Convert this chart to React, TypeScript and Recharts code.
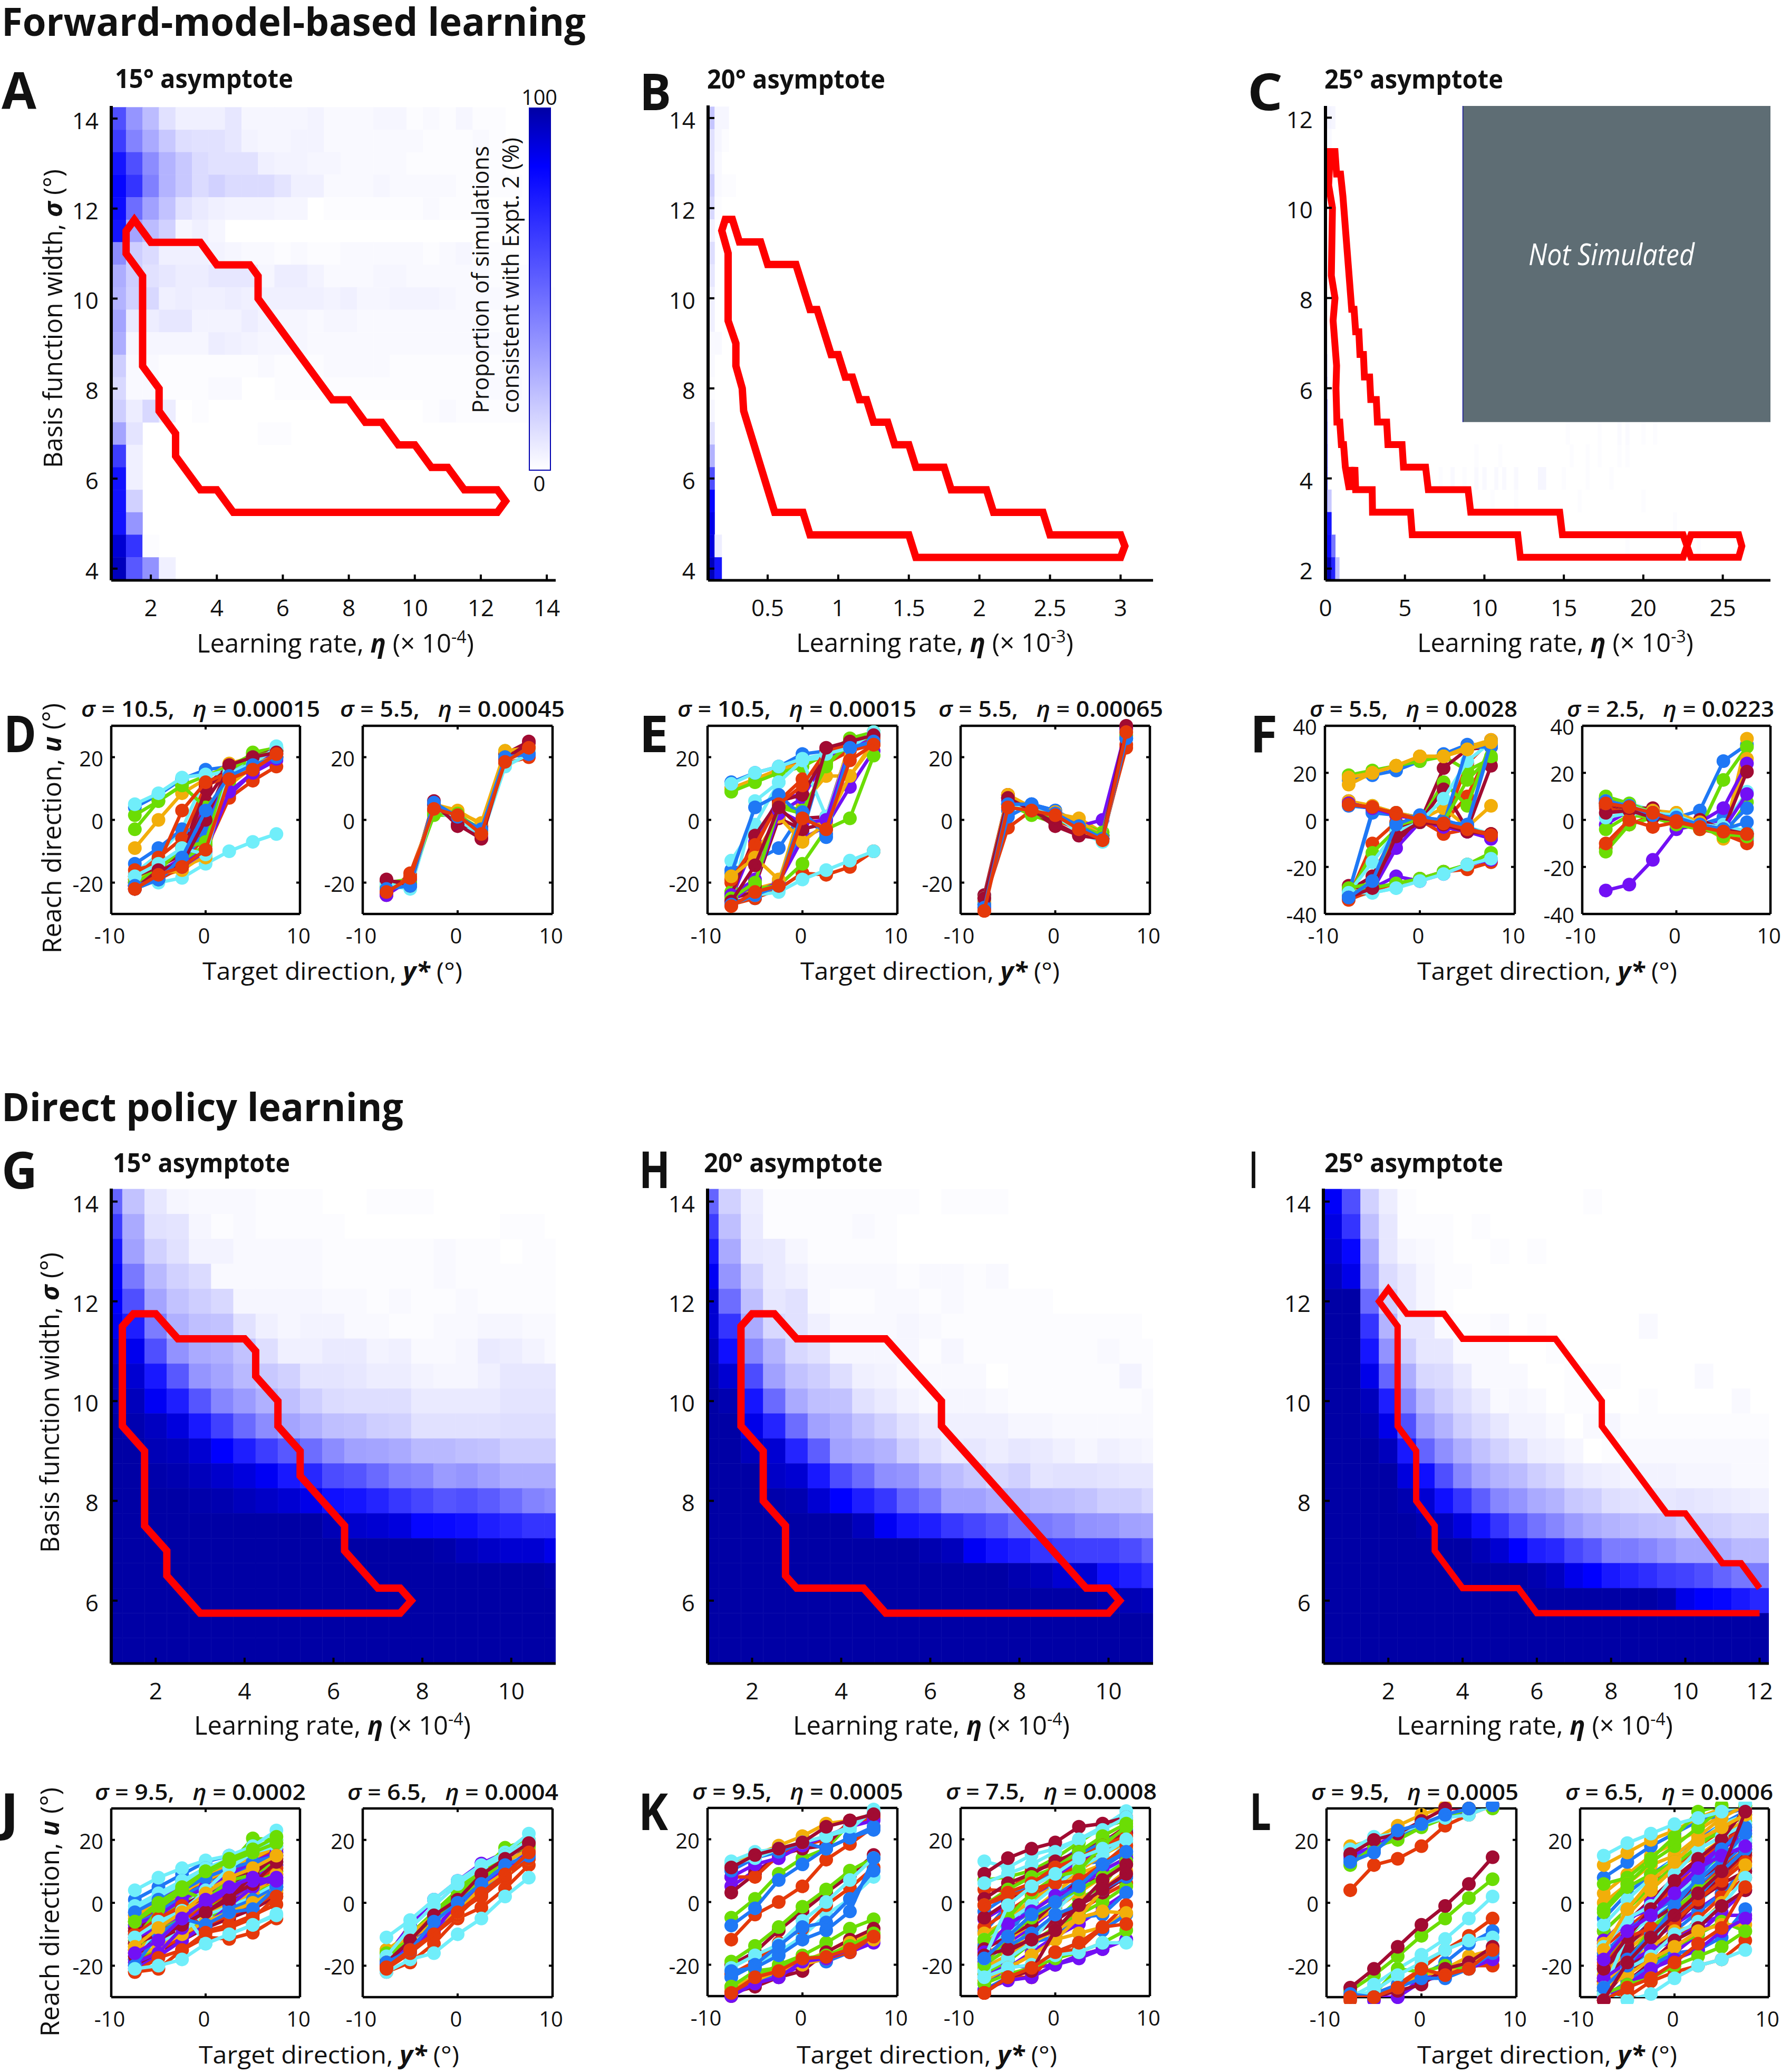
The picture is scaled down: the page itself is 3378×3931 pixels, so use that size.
import { ComposedChart, Line, ReferenceArea, Scatter, XAxis, YAxis } from "recharts";

// heat map grids, value = % of simulations, rows run top to bottom, short rows are zero to the right
const etaA = [1, 1.5, 2, 2.5, 3, 3.5, 4, 4.5, 5, 5.5, 6, 6.5, 7, 7.5, 8, 8.5, 9, 9.5, 10, 10.5, 11, 11.5, 12, 12.5, 13, 13.5, 14];
const sigmaA = [14, 13.5, 13, 12.5, 12, 11.5, 11, 10.5, 10, 9.5, 9, 8.5, 8, 7.5, 7, 6.5, 6, 5.5, 5, 4.5, 4];
const heatA = [
  [58, 35, 22, 10, 5, 5, 5, 8, 3, 3, 3, 3, 4, 2, 2, 2, 3, 3, 1, 2, 1, 3, 1, 1, 0, 0, 0],
  [64, 41, 28, 18, 11, 10, 10, 8, 4, 3, 3, 4, 4, 2, 2, 2, 2, 2, 2, 1, 1, 1, 2, 1, 0, 0, 0],
  [77, 58, 38, 25, 18, 12, 10, 10, 10, 5, 4, 4, 3, 3, 2, 2, 2, 2, 1, 1, 1, 1, 1, 1, 0, 0, 0],
  [82, 67, 42, 25, 18, 12, 15, 12, 12, 12, 9, 5, 5, 2, 2, 2, 3, 2, 2, 2, 2, 1, 1, 1, 1, 0, 0],
  [80, 48, 31, 20, 10, 7, 5, 4, 4, 4, 3, 3, 0, 1, 1, 1, 1, 1, 1, 2, 1, 1, 0, 0, 0, 0, 0],
  [77, 30, 22, 15, 3, 5, 3, 0, 0, 0, 0, 0, 0, 0, 0, 0, 0, 0, 0, 0, 0, 0, 0, 0, 0, 0, 0],
  [38, 16, 12, 5, 5, 5, 4, 3, 2, 2, 1, 2, 1, 1, 2, 2, 2, 2, 2, 1, 2, 3, 1, 1, 0, 0, 0],
  [27, 16, 10, 8, 6, 6, 8, 8, 8, 3, 6, 6, 4, 2, 2, 2, 3, 3, 2, 2, 2, 2, 2, 1, 1, 1, 0],
  [25, 15, 13, 5, 6, 5, 5, 6, 5, 5, 5, 5, 5, 4, 5, 3, 3, 4, 4, 4, 3, 2, 2, 2, 1, 1, 1],
  [30, 7, 6, 8, 8, 4, 4, 4, 6, 4, 3, 3, 2, 3, 3, 2, 2, 2, 2, 2, 2, 2, 2, 1, 1, 1, 1],
  [27, 3, 3, 3, 3, 3, 6, 5, 4, 3, 3, 3, 2, 2, 2, 2, 2, 2, 2, 2, 2, 2, 3, 2, 1, 1, 1],
  [16, 2, 2, 1, 1, 1, 1, 1, 1, 2, 1, 1, 1, 2, 2, 2, 2, 1, 1, 1, 1, 1, 1, 1, 1, 1, 1],
  [13, 2, 2, 1, 1, 1, 2, 2, 0, 0, 1, 1, 1, 1, 1, 1, 1, 1, 1, 1, 1, 1, 2, 2, 2, 1, 1],
  [16, 6, 13, 6, 0, 1, 0, 0, 0, 0, 0, 0, 0, 0, 0, 0, 0, 0, 0, 1, 2, 1, 1, 1, 1, 1, 1],
  [30, 9, 0, 0, 0, 0, 0, 0, 0, 1, 1],
  [64, 5],
  [78, 5],
  [78, 15],
  [78, 35],
  [92, 67, 1],
  [96, 55, 36, 5],
];
const outlineA = [[1.25, 11.5], [1.5, 11.75], [2, 11.25], [3.5, 11.25], [4, 10.75], [5, 10.75], [5.25, 10.5], [5.25, 10], [7.5, 7.75], [8, 7.75], [8.5, 7.25], [9, 7.25], [9.5, 6.75], [10, 6.75], [10.5, 6.25], [11, 6.25], [11.5, 5.75], [12.5, 5.75], [12.75, 5.5], [12.5, 5.25], [4.5, 5.25], [4, 5.75], [3.5, 5.75], [2.75, 6.5], [2.75, 7], [2.25, 7.5], [2.25, 8], [1.75, 8.5], [1.75, 10.5], [1.25, 11], [1.25, 11.5], [1.5, 11.75]];

const etaB = [0.1, 0.15, 0.2, 0.25];
const heatB = [
  [19, 3, 3], [10, 3, 1], [10, 2], [16, 2, 1, 1], [13, 1], [5], [11], [8], [5], [5], [2, 2], [2], [1], [3], [10], [25], [58], [82], [88], [90, 6], [96, 77],
];
const outlineB = [[0.175, 11.5], [0.2, 11.75], [0.25, 11.75], [0.3, 11.25], [0.45, 11.25], [0.5, 10.75], [0.7, 10.75], [0.8, 9.75], [0.85, 9.75], [0.95, 8.75], [1, 8.75], [1.05, 8.25], [1.1, 8.25], [1.15, 7.75], [1.2, 7.75], [1.25, 7.25], [1.35, 7.25], [1.4, 6.75], [1.5, 6.75], [1.55, 6.25], [1.75, 6.25], [1.8, 5.75], [2.05, 5.75], [2.1, 5.25], [2.45, 5.25], [2.5, 4.75], [3, 4.75], [3.03, 4.5], [3, 4.25], [1.55, 4.25], [1.5, 4.75], [0.8, 4.75], [0.75, 5.25], [0.55, 5.25], [0.33, 7.5], [0.32, 8], [0.275, 8.5], [0.275, 9], [0.22, 9.5], [0.22, 11], [0.175, 11.5], [0.2, 11.75]];

const etaC = [0, 0.25, 0.5, 0.75];
const sigmaC = [12, 11.5, 11, 10.5, 10, 9.5, 9, 8.5, 8, 7.5, 7, 6.5, 6, 5.5, 5, 4.5, 4, 3.5, 3, 2.5, 2];
const heatC = [
  [5, 4, 3], [4, 2], [3, 1], [3], [2], [2], [2], [2], [2], [3], [6], [15], [25], [50], [60], [70], [73], [85, 18], [88, 77], [88, 80, 45], [96, 97, 73, 20],
];
const faintC = [[7.25, 4, 1], [8, 4, 2], [8.75, 4, 1], [9.5, 4, 2], [10, 4, 2], [10.75, 4, 2], [11.25, 4, 2], [12, 4, 2], [13.5, 4, 3], [13.75, 4, 3], [15, 4, 1], [16.5, 4, 1], [18, 4, 1], [9.5, 4.5, 1], [11, 4.5, 1], [15.5, 4.5, 1], [16.5, 4.5, 1], [17.25, 4.5, 1], [18.5, 4.5, 1], [19, 4.5, 1], [15.25, 5, 1], [17.25, 5, 1], [18.5, 5, 1.5], [19, 5, 1.5], [20, 5, 1], [20.75, 5, 1], [10.5, 3.5, 1], [12, 3.5, 1], [16, 3.5, 1], [20, 3.5, 1], [15, 3, 1], [22, 3, 1], [19, 2.5, 1], [23.5, 2.5, 1]];
const outlineC = [[0.2, 10.5], [0.3, 11.25], [0.6, 11.25], [0.7, 10.75], [0.95, 10.75], [1.1, 10.25], [1.65, 7.75], [1.8, 7.75], [1.9, 7.25], [2.1, 7.25], [2.17, 6.75], [2.39, 6.75], [2.45, 6.25], [2.78, 6.25], [2.85, 5.75], [3.2, 5.75], [3.27, 5.25], [3.85, 5.25], [3.93, 4.75], [4.82, 4.75], [4.91, 4.25], [6.3, 4.25], [6.47, 3.75], [8.97, 3.75], [9.14, 3.25], [14.74, 3.25], [14.91, 2.75], [22.5, 2.75], [22.75, 2.5], [23, 2.75], [26, 2.75], [26.2, 2.5], [26, 2.25], [23, 2.25], [22.75, 2.5], [22.5, 2.25], [12.26, 2.25], [12.1, 2.75], [5.46, 2.75], [5.35, 3.25], [2.96, 3.25], [2.94, 3.75], [1.9, 3.75], [1.85, 4.25], [1.7, 3.75], [1.6, 4.25], [1.5, 3.75], [1.25, 4.25], [1.14, 4.75], [1, 4.75], [0.9, 5.25], [0.72, 5.25], [0.66, 6], [0.7, 6.5], [0.48, 7.5], [0.6, 8], [0.37, 8.5], [0.44, 10], [0.2, 10.5], [0.3, 11.25]];

const etaLow = [1, 1.5, 2, 2.5, 3, 3.5, 4, 4.5, 5, 5.5, 6, 6.5, 7, 7.5, 8, 8.5, 9, 9.5, 10, 10.5, 11];
const sigmaLow = [14, 13.5, 13, 12.5, 12, 11.5, 11, 10.5, 10, 9.5, 9, 8.5, 8, 7.5, 7, 6.5, 6, 5.5, 5];
const heatG = [
  [51, 20, 8, 3, 2, 2, 2, 1, 1, 1, 0, 0, 1, 1, 1, 0, 0, 0, 0, 0, 0],
  [64, 28, 10, 9, 3, 1, 2, 1, 1, 1, 1, 0, 0, 0, 0, 0, 0, 0, 1, 1, 0],
  [76, 31, 15, 10, 4, 4, 2, 2, 2, 2, 1, 1, 1, 1, 1, 2, 1, 1, 0, 1, 1],
  [82, 44, 23, 15, 12, 2, 2, 2, 2, 2, 1, 1, 1, 1, 1, 2, 1, 1, 1, 1, 1],
  [84, 58, 30, 20, 16, 13, 3, 3, 3, 3, 2, 2, 1, 2, 1, 1, 2, 1, 1, 1, 1],
  [87, 74, 43, 26, 21, 20, 10, 5, 3, 4, 4, 2, 2, 1, 1, 2, 2, 3, 3, 2, 2],
  [92, 87, 58, 36, 28, 26, 20, 11, 5, 5, 7, 7, 4, 5, 2, 2, 3, 7, 6, 4, 2],
  [96, 92, 76, 55, 35, 30, 23, 18, 15, 9, 9, 8, 6, 6, 4, 3, 3, 5, 8, 8, 8],
  [98, 96, 86, 74, 56, 40, 33, 26, 21, 16, 12, 11, 11, 11, 7, 7, 7, 7, 9, 9, 9],
  [100, 98, 95, 90, 76, 63, 49, 38, 30, 26, 21, 20, 16, 15, 10, 10, 10, 10, 11, 11, 11],
  [100, 100, 97, 96, 92, 84, 74, 64, 55, 48, 38, 31, 30, 28, 23, 23, 21, 20, 16, 16, 16],
  [100, 100, 99, 98, 96, 93, 90, 86, 76, 71, 59, 56, 49, 42, 40, 33, 35, 31, 27, 27, 27],
  [100, 100, 100, 100, 99, 98, 96, 94, 92, 88, 79, 77, 72, 66, 61, 56, 58, 54, 48, 41, 38],
  [100, 100, 100, 100, 100, 100, 100, 100, 100, 100, 97, 93, 92, 90, 82, 81, 79, 74, 71, 67, 67],
  [100, 100, 100, 100, 100, 100, 100, 100, 100, 100, 100, 100, 100, 100, 100, 99, 96, 94, 92, 92, 88],
  [100, 100, 100, 100, 100, 100, 100, 100, 100, 100, 100, 100, 100, 100, 100, 100, 100, 100, 100, 100, 99],
  [100, 100, 100, 100, 100, 100, 100, 100, 100, 100, 100, 100, 100, 100, 100, 100, 100, 100, 100, 100, 100],
  [100, 100, 100, 100, 100, 100, 100, 100, 100, 100, 100, 100, 100, 100, 100, 100, 100, 100, 100, 100, 100],
  [100, 100, 100, 100, 100, 100, 100, 100, 100, 100, 100, 100, 100, 100, 100, 100, 100, 100, 100, 100, 100],
];
const outlineG = [[1.25, 11.5], [1.5, 11.75], [2, 11.75], [2.5, 11.25], [4, 11.25], [4.25, 11], [4.25, 10.5], [4.75, 10], [4.75, 9.5], [5.25, 9], [5.25, 8.5], [6.25, 7.5], [6.25, 7], [7, 6.25], [7.5, 6.25], [7.75, 6], [7.5, 5.75], [3, 5.75], [2.25, 6.5], [2.25, 7], [1.75, 7.5], [1.75, 9], [1.25, 9.5], [1.25, 11.5], [1.5, 11.75]];

const heatH = [
  [51, 15, 6, 1, 1, 1, 1, 1, 1, 1, 0, 1, 1, 1],
  [64, 21, 7, 1, 1, 1, 1, 2, 1],
  [76, 28, 8, 7, 3, 1, 1, 1, 1],
  [86, 35, 15, 7, 5, 2, 2, 2, 2, 1, 2, 2, 1, 2],
  [92, 48, 21, 8, 10, 2, 1, 1, 2, 2, 1, 2, 1, 1, 1, 1],
  [92, 67, 28, 13, 10, 5, 2, 2, 2, 3, 2, 1, 1, 1, 1, 1, 1, 1, 1, 1],
  [96, 79, 40, 25, 13, 10, 3, 3, 3, 3, 1, 3, 1, 1, 1, 1, 1, 1, 2, 1, 1],
  [98, 92, 59, 31, 20, 16, 11, 5, 4, 2, 2, 2, 2, 0, 1, 1, 1, 1, 1, 4, 1],
  [100, 98, 77, 49, 28, 21, 20, 10, 7, 4, 2, 3, 3, 2, 1, 1, 1, 1, 1, 1, 2],
  [100, 100, 88, 72, 48, 31, 27, 20, 15, 10, 7, 5, 5, 5, 3, 3, 2, 2, 2, 2, 2],
  [100, 100, 96, 92, 72, 53, 31, 28, 25, 16, 11, 7, 8, 6, 8, 7, 5, 3, 5, 4, 3],
  [100, 100, 100, 94, 92, 76, 59, 49, 37, 35, 27, 22, 18, 13, 15, 9, 10, 10, 9, 8, 8],
  [100, 100, 100, 99, 98, 92, 84, 74, 66, 51, 44, 31, 31, 27, 25, 23, 22, 20, 16, 16, 13],
  [100, 100, 100, 100, 100, 100, 100, 96, 86, 77, 74, 66, 61, 56, 48, 44, 41, 36, 35, 31, 30],
  [100, 100, 100, 100, 100, 100, 100, 100, 100, 100, 98, 96, 86, 78, 74, 67, 64, 63, 63, 59, 51],
  [100, 100, 100, 100, 100, 100, 100, 100, 100, 100, 100, 100, 100, 100, 98, 96, 92, 92, 79, 74, 69],
  [100, 100, 100, 100, 100, 100, 100, 100, 100, 100, 100, 100, 100, 100, 100, 100, 100, 100, 98, 97, 96],
  [100, 100, 100, 100, 100, 100, 100, 100, 100, 100, 100, 100, 100, 100, 100, 100, 100, 100, 100, 100, 100],
  [100, 100, 100, 100, 100, 100, 100, 100, 100, 100, 100, 100, 100, 100, 100, 100, 100, 100, 100, 100, 100],
];
const outlineH = [[1.75, 11.5], [2, 11.75], [2.5, 11.75], [3, 11.25], [5, 11.25], [6.25, 10], [6.25, 9.5], [9.5, 6.25], [10, 6.25], [10.25, 6], [10, 5.75], [5, 5.75], [4.5, 6.25], [3, 6.25], [2.75, 6.5], [2.75, 7.5], [2.25, 8], [2.25, 9], [1.75, 9.5], [1.75, 11.5], [2, 11.75]];

const etaI = [0.5, 1, 1.5, 2, 2.5, 3, 3.5, 4, 4.5, 5, 5.5, 6, 6.5, 7, 7.5, 8, 8.5, 9, 9.5, 10, 10.5, 11, 11.5, 12];
const heatI = [
  [85, 58, 15, 6, 1, 0, 0, 0, 0, 0, 0, 0, 0, 0, 1],
  [89, 67, 21, 8, 1, 1, 1, 0, 1],
  [92, 82, 30, 8, 3, 2, 1, 0, 0, 1, 0, 1],
  [96, 88, 35, 12, 7, 3, 1, 1],
  [100, 100, 49, 16, 7, 3, 1, 0, 0],
  [100, 100, 67, 25, 8, 8, 2, 1, 1, 2, 0, 1, 0, 0, 0, 0, 0, 2],
  [100, 100, 77, 36, 16, 8, 8, 2, 2, 2, 0, 0, 1],
  [100, 100, 88, 51, 27, 13, 12, 7, 2, 2, 2, 0, 0, 1, 1, 1, 0, 0, 0, 0, 2],
  [100, 100, 96, 74, 40, 23, 16, 11, 7, 2, 3, 2, 0, 1, 1, 0, 0, 1, 0, 0, 0, 0, 2],
  [100, 100, 98, 88, 58, 33, 25, 16, 12, 8, 4, 4, 2, 0, 2, 3, 1, 1, 1, 1, 1, 1, 1, 1],
  [100, 100, 100, 96, 76, 51, 37, 27, 20, 15, 11, 6, 5, 3, 0, 1, 2, 2, 2, 2, 2, 2, 2, 2],
  [100, 100, 100, 100, 90, 79, 58, 40, 30, 25, 22, 16, 13, 8, 6, 5, 4, 4, 4, 3, 3, 3, 2, 2],
  [100, 100, 100, 100, 98, 92, 79, 67, 53, 40, 35, 28, 25, 18, 16, 11, 10, 9, 8, 9, 8, 7, 6, 5],
  [100, 100, 100, 100, 100, 98, 96, 90, 79, 67, 56, 46, 40, 33, 28, 25, 23, 21, 20, 16, 16, 15, 13, 13],
  [100, 100, 100, 100, 100, 100, 100, 100, 97, 92, 84, 74, 71, 61, 55, 43, 43, 40, 35, 30, 30, 27, 23, 23],
  [100, 100, 100, 100, 100, 100, 100, 100, 100, 100, 100, 98, 95, 88, 84, 76, 72, 69, 64, 62, 58, 51, 45, 43],
  [100, 100, 100, 100, 100, 100, 100, 100, 100, 100, 100, 100, 100, 100, 100, 100, 100, 100, 98, 88, 84, 82, 76, 71],
  [100, 100, 100, 100, 100, 100, 100, 100, 100, 100, 100, 100, 100, 100, 100, 100, 100, 100, 100, 100, 100, 100, 100, 100],
  [100, 100, 100, 100, 100, 100, 100, 100, 100, 100, 100, 100, 100, 100, 100, 100, 100, 100, 100, 100, 100, 100, 100, 100],
];
const outlineI = [[12, 6.25], [11.5, 6.75], [11, 6.75], [10, 7.75], [9.5, 7.75], [7.75, 9.5], [7.75, 10], [6.5, 11.25], [4, 11.25], [3.5, 11.75], [2.5, 11.75], [2, 12.25], [1.75, 12], [2.25, 11.5], [2.25, 9.5], [2.75, 9], [2.75, 8], [3.25, 7.5], [3.25, 7], [4, 6.25], [5.5, 6.25], [6, 5.75], [12, 5.75]];

// reach directions at the seven targets, one row per simulation, colours cycle by row
const targets = [-7.5, -5, -2.5, 0, 2.5, 5, 7.5];
const reachD1 = [
  [-21, -19, -15, -2, 14, 18, 20], [-21, -19, -14, -5, 16, 19, 21], [-20, -18, -16, -11, 11, 17, 20], [-21, -17, -15, -8, 8, 15, 19], [-19, -16, -13, -8, 15, 21.5, 23], [-20, -20, -18.5, -14, -10, -7, -4.5], [-19, -18, -15, 6, 17, 20, 22],
  [4, 8, 13, 16, 17, 19, 22], [-22, -19, -15, -9.5, 7, 12.5, 17], [-9, 0, 8.5, 13, 18, 20, 22], [-20, -17, -12, 1, 14, 18, 21], [1.5, 6, 11, 14, 17, 21, 22], [-17, -11, -3, 14, 16, 18, 23], [-18, -15, -11, 11, 17, 20, 22],
  [-14, -9, -3, -4, 14, 18, 20], [-18, -12, -6, 11, 14, 17, 21], [-20, -17, -15, -12, 13, 17, 20], [-21, -18, -14, 0, 15, 18, 20], [-3, 6, 11, 4, 12, 20, 22], [5, 8.5, 13.5, 14.5, 15, 18, 23.5], [-21, -17, -13, 10, 17, 20, 22.5],
  [-22, -19, -13, -4, 15, 18, 20], [-16, -14, 3, 12, 15, 17, 20], [-19, -17, -16, -11, 14, 18, 20], [-20, -17, -15, -10, 9, 15, 19.5], [-20, -16, -9, -7, 16, 20, 22], [-18, -14, -9, -11, 15, 18, 23], [-22, -16, -14, 0, 17.5, 20, 21.5],
  [-21, -19, -12, 3, 14, 17.5, 20], [-22, -17.5, -15, -9.5, 13, 16, 21],
];
const reachD2 = [
  [-22, -20.5, 5, 0.5, -3, 20, 22], [-24, -17, 3, 1, -5, 18, 20], [-21, -19, 5, 3, -1.5, 21, 23], [-23, -20, 4, 1, -4, 20, 21], [-20, -19, 1.5, 1.5, -3, 22, 22], [-21, -22, 3, 0, -5.5, 17, 21], [-19.5, -20, 6, -2, -2, 21, 25],
  [-21, -20.5, 5, 1, -3.5, 20, 21], [-23, -18, 3, 2, -4, 19, 22], [-22, -19, 5, 2.5, -1, 22, 23], [-24, -19, 4, 1, -5, 20, 21], [-21, -20, 2, 2, -4, 20, 23], [-20.5, -21.5, 4, 0, -4.5, 19, 22], [-19, -21, 5, -1.5, -6, 19.5, 24.5],
  [-22, -21, 5.5, 1, -3, 20, 21], [-23, -18.5, 3.5, 1.5, -4.5, 18.5, 23],
];
const reachE1 = [
  [-26, -25, -20, -4, 22, 24, 26], [-27, -25, -22, -17, -17.5, -15, -10], [-24, -22, -20, 5, 14, 14, 24], [-25, -23, -20, -6, -2, 10.5, 22], [-23, -22, -21, -14, -3, 0.5, 20.5], [-27, -24, -23, -19, -16, -13, -10], [-25, -23, -21, 0.5, 1, 24, 26],
  [-16, -13, -9, 2.5, -5.5, 24, 25], [10, 13, 16, 19, 21, 24, 26], [10, 13, 16, 18, 20, 23, 25], [-25, -7, 7, 8, 19, 23, 26], [9, 12, 15, 17, 21, 26, 28], [-13, -1.5, 12, 19, 20, 23, 28], [-24, -21, 0.5, -3, -1, 24, 27],
  [12, 15, 17, 21, 22, 24, 26], [-20, -9, 6, 13, 18, 22, 24], [-19, -11, 1, -7, -1, 25, 27], [-26, -20, 2, 7, 20, 23, 25], [-23, -20, 5, 3, 17, 25, 28], [-26, 6, 12, 19, 1, 23, 26], [-24, -5, 6, 8, 21, 24, 27],
  [-17, 4, 8, 1, -3, 23, 25], [-19, -8, 5, 11, 22, 24, 26], [-18, -12, -19, 0, -1, 14, 25], [-24, -19, 3, -1, 0, 23, 27], [-25, -20, 4, 2, 18, 24, 27], [11.5, 15, 17, 19.5, 21, 23, 28], [-26, -14.5, 4, -3, 23, 25, 27],
  [-27, -24, -21, 2.5, -4.5, 23, 25], [-27.5, -23, -21, 0.5, -3, 19, 24],
];
const reachE2 = [
  [-27, 3, 5, 3, -1, -6, 26], [-26, -2.5, 3, 1, -2, -5, 23], [-26, 7, 4, 2, 0.5, -4, 27], [-28, 7, 4, 1, -2, 0, 29], [-27, 5, 1.5, -1, -1, -4, 27], [-24, 6, 3, 1, -4, -7, 28], [-24, 8, 3, -2, -5, -5, 29],
  [-27, 1, 5, 3, -2, -6, 26], [-29, 8, 3, 0, -3, -6, 24], [-25, 8, 4, 2.5, -0.5, -5, 28], [-28, 6, 4, 2, -2, -5, 29], [-25, 5, 2, 0, -2, -5, 27], [-25, 5, 3.5, 1.5, -4, -7, 28], [-25, 7, 3, -1, -5, -6, 30],
  [-28, 5, 5, 2, -2, -6, 26], [-29, 4, 3, 1.5, -3, -6.5, 28],
];
const reachF1 = [
  [17, 19, 21, 25, 28, 32, 32], [-32, -27, -9, 0, -3, 24, 34], [15, 20, 23, 27, 27, 31, 34], [8, 5, 2, 0, -2, -4, -8], [19, 21, 23, 25, 27, 21, 26], [7, 6, 3, 0, -2, -3, -6], [-28, -30, -9, -1, 22, 30, 31],
  [6, 5, 2, 1, 0, -3, -7], [-33, -10, -1, 0, -1, 10, 31], [-32, -27, -4, 0, 5, -3, 6], [-32, -30, -12, -1, -3, -5, -8], [-32, -14, -4, -1, 16, 6, 33], [-33, -31, -29, -25, -22, -19, -17], [-30, -24, -4, -1, 13, -4, 23],
  [-31, 4, 3, 1, -1, -2, 32], [-34, -30, -27, -25, -22, -21, -18], [8, 6, 3, 1, -1, -4, -6], [-31, -29, -24, -26, -23, -19, -17], [-31, -29, -27, -25, -22, -19, -14], [-31, -18, -5, -1, 9, 25, 33], [7, 5, 2, 0, -2, -5, -6],
  [-31, 3, 2, 1, -2, 31, 31], [7, 5, 3, 0, -6, -4, -6], [18, 20, 23, 27, 27, 30, 33], [7, 5, 2, 0, -3, -5, -7], [-29, -27, -2, 0, -1, 17, 27], [-31, -31, -29, -26, -23, -19, -16.5], [-33, -29, -7, -1, -2, -5, -6],
  [-33, -26, -2, 2, -1, -2, 33], [6.5, 5.5, 2.5, 0, -1.5, -4, -6.5], [18, 20, 23, 27, 27, 30, 33],
];
const reachF2 = [
  [8, 5, 2, 1, 4, 25, 32], [-12, -2, 2, -1, -3, -5, -9], [6, 4, 4, 3, -2, -8, 34.5], [-30, -27.5, -17, -4, -2, -1, -6], [-13.5, -2, 1, -2, -4, 17, 31], [9, 7, 4, 2, -1, -3, 12], [6, 5, 5, 0, 0, -4, -6],
  [9, 6, 3, 1, -2, 1, -8], [5, 3, 2, 1, -4, -6, -10], [7, 5, 4, 2, -1, -7, 26], [-2, 4, 3, 1, -1, 5, 24], [-4, 2, 1, -1, -3, -7, 7.5], [1, 3, 2, 1, -2, -2, -5], [3, 4, 1, 0, 0, -4, 20.5],
  [7, 6, 3, 1, -2, -5, 5], [-10, 0, -3, -1, -3, -5, -7], [9, 6, 3, 3, -1, -6, -7], [9, 6, 3, 0, -2, -4, 11], [10, 7, 3, 0, -3, -6, -7], [8, 6, 3, 2, -2, -3, -6], [7, 5, 3, 0, -2, -4, -6],
  [8, 6, 2, 1, -2, -4, -1], [7, 5.5, 3, -0.5, -3, -5, -6],
];
const reachJ1 = [
  [1, 5, 9, 13, 15, 17, 19], [-9, -6, -2, 2, 5, 8, 12], [-14, -10, -6, -2, 1, 4, 7], [-3, 1, 5, 9, 11, 14, 17], [-6, -2, 3, 9, 12, 20.5, 20], [4, 8, 11, 13.5, 15, 18, 23], [-12, -9, -5, -1, 3, 6, 10],
  [-4, 2, 7, 11, 13, 16, 18], [-16, -12, -8, -4, -1, 2, 5], [-8, -4, 0, 5, 8, 11, 16], [-18, -15, -11, -6, -3, 1, 4], [-9, -5, 0, 3, 8, 13, 20], [-10, -6, -2, 5, 10, 15, 19], [-20, -16, -12, -8, -5, -2, 2],
  [-13, -9, -4, 1, 5, 9, 12], [-6, -2, 3, 7, 10, 13, 17], [-11, -7, -3, 2, 6, 10, 14], [-16, -13, -8, -3, 1, 6, 9], [-15, -11, -6, -2, 2, 7, 11], [-1, 3, 7, 11, 14, 17, 20], [-8, -5, -1, 3, 7, 11, 15],
  [-7, -3, 2, 6, 9, 12, 16], [-19, -15, -11, -7, -4, -1, 3], [-5, -1, 3, 8, 12, 15, 19], [-11, -8, -4, 0, 4, 8, 12], [-14, -9, -5, -1, 3, 7, 10], [-2, 2, 6, 10, 13, 16, 21], [-15, -12, -8, -4, 0, 4, 8],
  [-10, -7, -2, 3, 6, 10, 13], [-13, -9, -6, -1, 3, 7, 11], [-4, 0, 4, 7, 11, 14, 18], [-7, -4, 1, 5, 9, 13, 16], [-18, -14, -9, -5, -1, 3, 6], [-17, -13, -9, -4, -1, 2, 6], [-9, -6, -2, 2, 6, 10, 14],
  [-3, 1, 4, 8, 11, 13, 15], [-22, -21, -15, -11, -11.5, -9.5, -5], [-15, -11, -7, -3, 0, 3, 9], [-21, -17, -12, -7, -1, 5, 8], [-12, -2, 4, 1, 7, 9, 13], [-20, -7, -3, 4, 11, 16, 18], [-13, -10, -7, -3, 2, 6, 13],
  [-18, -10, -5, -7, -2, 1, 5], [-10, -5, -1, -9, -7, -4, -0.5], [-17, -14, -10, -6, -3, 0, 4], [-19, -16, -8, -1, 4, 7, 6.5], [-6, -1, 4, 10, 13, 16, 19], [-11, -6, -2.5, -13, -10, -7, -3.5], [-17, -11, -7, -3, 1, 9, 15],
  [-20, -10, -5, -7, -3, -2, 5], [-22, -17.5, -15, -9.5, -8, -5, 2], [-14, -8, -3, 3, 8, 11, 15], [-16, -12, -5, 1, 5, 8, 7], [-6, 0, 5, 10, 14, 17, 21], [-21, -20, -18, -13, -10, -7, -4],
];
const reachJ2 = [
  [-19, -15, -8, 0, 5, 11, 15], [-22, -19, -13, -5, -1.5, 4.5, 12], [-16, -12, -6, -4, 3, 9, 15], [-17, -7, 1, 7, 12.5, 16, 18], [-16, -11, -4, 3, 10, 17.5, 20], [-22, -18, -16, -10, -5, 2, 8], [-18, -13, -7, 0, 6, 12, 18],
  [-18, -13, -7, 1, 7, 12, 17], [-19, -14, -7, -1, 5, 10, 15], [-17, -13, -8, -2, 4, 9, 14], [-18, -12, -6, 2, 8, 13, 17], [-15, -10, -3, 4, 11, 16, 19], [-19, -14, -7, 0, 6, 11, 17], [-20, -15, -8, -1, 5, 11, 16],
  [-17, -12, -5, 3, 9, 13, 17], [-21, -16, -10, -3, 2, 8, 14], [-15, -10, -4, 1, 8, 13, 17], [-20, -14, -8, -1, 5, 10, 15], [-18, -12, -5, 0, 7, 14, 19], [-11, -5.5, 1, 7, 12, 16, 22], [-19, -12, -4, 2, 9, 14, 19],
  [-20, -15, -9, -1, 4, 10, 15], [-20, -14, -10, -4, 3, 9, 16], [-16, -11, -7, -3, 5, 10, 16], [-19, -14, -9, 0, 6, 11, 16], [-16, -12, -4, 3, 9, 15, 18], [-17, -8, -1, 6, 11, 15, 20], [-19, -12, -4, 1, 9, 14, 19],
  [-19, -15, -6, 0, 6, 12, 15], [-20.5, -15, -10, -3, 3, 9, 16],
];
const reachK1 = [
  [-29, -26, -23, -18, -19, -16, -12], [-12, -4, 0, 5, 13.5, 18.5, 24], [12, 15, 18, 21, 25, 26, 28], [5, 10, 14, 18, 21, 24, 27], [-5, 1, 9, 14, 17, 25, 27], [-24, -20, -16, -11, -4, 1, 8], [-20, -16, -9, -3, 3, 8.5, 15],
  [-7.5, -2, 7, 12, 17, 20.5, 23], [-23, -19, -13, -8.5, -1, 4.5, 11], [-27, -25, -22, -20, -16, -12, -10], [-29, -26, -24, -20, -18, -16, -13], [-19, -14, -8, -1.5, 4, 10, 14], [-21, -17, -13.5, -6, 0, 7, 14], [3, 9, 15, 17, 18, 26, 27],
  [-24, -20, -14, -8, -6.5, 1, 10], [8, 8, 15, 18, 20, 25, 27], [-28, -25, -20, -19, -16, -12, -11], [8, 12, 14, 18, 21, 24, 26], [-27, -24, -20, -17, -13, -8.5, -5.5], [13, 16, 17, 19, 21, 23, 29.5], [-29, -27, -24, -22, -16, -12, -8.5],
  [10, 14, 16, 19, 17, 20.5, 24], [-30, -24, -22, -18, -18, -16, -11], [-27, -24, -22, -20, -18, -13, -12], [-30, -26, -24, -19, -18, -15, -11], [-27, -22, -21, -18, -17, -14, -10], [12, 14, 17, 19, 21, 24, 29], [11, 15, 17, 19, 24, 26, 28],
  [-22, -21, -17, -12, -9, -3, 14], [-29, -24, -22, -18, -17.5, -15, -11],
];
const reachK2 = [
  [-9.5, -1, 5, 12, 17, 18, 22], [-29, -24, -24, -20, -17, -15, -12], [-25, -21, -6, 1, 5, 10, 14], [-5.5, -1, 7, 8.5, 13, 17, 18], [7, 8, 10, 14, 19, 24, 26], [13, 11, 15, 17, 20, 24, 29], [9, 14, 17, 19, 24, 25, 27],
  [-18, -11, 0, 6, 12, 13, 15], [4, 3.5, 10, 12, 16, 20, 22], [-13, -8, -3, 3, 9, 12, 17], [-16, -7, 0, 8, 13, 18, 22], [-20, -15, -9, -6, 1, 5, 15], [6, 9, 12, 16, 20, 23, 27], [1, 6, 9, 13, 16, 19, 24],
  [-3, 2, 6, 10, 15, 19, 23], [-8, -3, 2, 7, 12, 16, 20], [-10, -6, 1, 5, 10, 15, 19], [-19, -13, -8, -2, 4, 9, 14], [-1, 4, 8, 11, 16, 21, 25], [-12, -6, -1, 5, 11, 15, 20], [-5, 0, 5, 9, 14, 18, 22],
  [-14, -8, -3, 2, 7, 11, 16], [-23, -18, -13, -8, -3, 2, 6], [-17, -12, -7, -2, 3, 8, 12], [-26, -21, -16, -11, -7, -2, 3], [-23, -19, -13, -8, -4, 0, 5], [-15, -10, -5, 0, 5, 9, 13], [-21, -17, -11, -6, -1, 3, 8],
  [-22, -18, -13, -11, -5, -4, 3], [-1, 3, 6, 11, 14, 18, 21], [-21, -17, -13, -9, -5, 4, 10], [-24, -20, -21, -20, -17, -15, -12], [-12, -5, 3, 8, 10, 18, 24], [-22, -18, -13, -3, 4.5, 11, 19], [-15, -11, -7, 0, 7, 7, 12],
  [-18, -14, -10, -4, -1, 4, 8], [-1, 2, 4, 6, 7, 12, 18], [-25, -21, -17, -12, -10, -8, -3.5], [-16, -7, -3, 2, 5, 10, 14], [-20, -11, -5, 0, 4, 8, 13], [-18, -1, 5, 9, 14, 17, 20], [-17, -15, -12, -9, -1, 7, 12],
  [-28, -24, -21, -16, -13, -9, -4], [-29, -24, -24, -16, -15, -8, -1], [-25, -21, -17, -12, -5, -3, -3.5], [-28, -25, -24, -20, -18, -15, -12], [-26, -23, -21, -18, -16, -13, -9], [-24, -21, -20, -17, -16, -13, -13], [-29, -24, -22, -9, -1, 4, 9],
  [-18, -11, -4, 0, 5, 12, 16], [-29, -24, -21, -16, -13, -8, -7],
];
const reachL1 = [
  [14, 17, 21, 25, 27, 30, 31], [4, 12, 14, 18, 24.5, 28, 31], [18, 20, 24.5, 28, 30.5, 30, 31], [15, 18, 22, 25, 27, 29, 31], [12, 18, 20, 24, 27, 30, 30], [17, 21, 22, 25, 27, 28, 31], [15.5, 20, 22, 26, 30, 30, 31],
  [13, 16, 23, 25, 28, 30, 31], [-30, -29, -26, -21, -15, -10.5, -5], [-30, -30, -26, -25, -21, -17, -15], [-30, -31, -30, -25, -23, -20, -17.5], [-28, -23, -17, -10.5, -5, 1.5, 7.5], [-30, -26, -21, -16.5, -11.5, -5, 2], [-27, -21, -14, -7, -1, 6, 14.5],
  [-30, -29, -26, -23, -19, -13, -9], [-31, -30, -27, -22, -23, -20, -20], [-30, -30, -27, -23, -22, -19, -16], [-30, -30, -30, -24, -23, -21, -18], [-30, -29, -21, -22, -20, -21, -15], [-30, -28, -23, -19, -15, -12, -11], [-30, -30, -28, -26, -21, -19, -14],
  [-29, -30, -27, -24, -24, -21, -16], [-30, -30, -27, -21, -23, -21, -15],
];
const reachL2 = [
  [-5, 3, 9, 14, 20, 25, 29], [-9, -2, 6, 11, 18, 23, 28], [3, 9, 15, 19, 23, 28, 31], [-17, -9, -2, 4, 11, 17, 22], [-9, -2, 5, 12, 18, 24, 28], [-22, -14, -7, -1, 6, 12, 18], [-12, -6, 1, 8, 14, 19, 25],
  [-20, -13, -6, 0, 5, 12, 19], [-14, -8, -2, 5, 13, 19, 24], [-23, -15, -9, -2, 4, 8, 14], [-25, -18, -12, -7, -2, 3, 10], [-18, -11, -4, 2, 8, 15, 21], [-26, -18, -12, -6, 0, 7, 13], [-24, -17, -10, -3, 3, 9, 15],
  [8, 13, 18, 22, 26, 28, 30], [-19, -13, -8, -3, 4, 11, 17], [12, 16, 20, 23, 27, 30, 31], [-13, -6, 0, 7, 12, 18, 23], [6, 8, 14, 21, 29, 31, 31], [-7, 1, 8, 14, 19, 25, 28], [-21, -14, -6, -1, 7, 13, 20],
  [-28, -21, -15, -9, -3, 3, 11], [-25, -19, -9, -4, 1, 8, 15], [0, 6, 12, 15, 21, 27, 31], [-12, -5, -2, 3, 10, 16, 17], [-3, 5, 9, 13, 20, 22, 26], [-28, -10, -5, 2, 8, 14, 20], [-30, -21, -14, -5, 0, 9, 16],
  [-16, -9, -3, 1, 7, 14, 22], [-31, -28, -20, -12, -5, 2, 8], [-13, -4, 4, 11, 15, 20, 27], [-30, -27, -22, -16, -10, -3, 4], [-28, -19, -8, -2, 4, 10, 17], [-14, -5, -1, 9, 17, 21, 25], [-25, -22, -18, -7, 1, 6, 10],
  [-28, -18, -10, -4, 2, 10, 17], [-20, -11, -8, -6, 1, 7, 13], [-26, -19, -14, -9, -7, 0, 12], [-24, -19, -15, -12, -7, -4, -4], [-31, -26, -20, -14, -10, -6, -9], [-27, -21, -17, -10, -6, -1, 8], [-31, -25, -19, -12, -8, -1, 4],
  [-30, -25, -20, -16, -15, -11, -2], [-31, -30, -25, -22, -20, -18, -12], [-27, -23, -18, -14, -9, -7, -7], [-30, -26, -21, -18, -15, -9, -5], [-29, -26, -24, -20, -17, -14, -9], [-29, -31, -29, -24, -20, -18, -15], [-21, -11, -2, 7, 14, 20, 30],
  [-27, -20, -11, -1, 8, 17, 24], [-31, -27, -24, -19, -13, -8, 5], [-15, -2, 7, 13, 20, 24, 28], [-18, -9, -4, 3, 11, 15, 18], [-2, 6, 13, 18, 24, 30, 31], [15, 19, 22, 25, 27, 29, 31.5], [-31, -19, -11, -4, 3, 10, 29],
];

const runColors = ["#1f78f5", "#e5390a", "#f2ae0a", "#7210f5", "#6bdd04", "#70eefa", "#a10b32"];
const sans = "'Open Sans', 'Noto Sans', sans-serif";
const pad = { left: 120, right: 40, top: 30, bottom: 90 };

function heatColor(v: number) {
  if (v <= 84) {
    const c = Math.round(255 * (1 - v / 84));
    return `rgb(${c},${c},255)`;
  }
  return `rgb(0,0,${Math.round(255 - ((v - 84) / 16) * 90)})`;
}

function buildCells(xs: number[], ys: number[], rows: number[][], dx: number, dy: number, xd: number[], yd: number[], extra: number[][] = []) {
  const cells: any[] = [];
  const push = (x: number, y: number, v: number) => {
    if (!v) return;
    cells.push({
      x, y, v,
      x0: Math.max(x - dx, xd[0]), x1: Math.min(x + dx, xd[1]),
      y0: Math.max(y - dy, yd[0]), y1: Math.min(y + dy, yd[1]),
    });
  };
  rows.forEach((row, j) => row.forEach((v, i) => push(xs[i], ys[j], v)));
  extra.forEach(([x, y, v]) => push(x, y, v));
  return cells;
}

function HeatPanel({ box, xd, yd, xTicks, yTicks, cells, outline, lineWidth, children }: any) {
  const w = box.r - box.l;
  const h = box.b - box.t;
  const kx = w / (xd[1] - xd[0]);
  const ky = h / (yd[1] - yd[0]);
  const path = outline.map(([x, y]: number[]) => ({ x, y }));
  return (
    <div style={{ position: "absolute", left: box.l - pad.left, top: box.t - pad.top }}>
      <ComposedChart
        width={w + pad.left + pad.right} height={h + pad.top + pad.bottom}
        margin={{ top: pad.top, right: pad.right, bottom: pad.bottom - 1, left: pad.left - 1 }}
      >
        <XAxis
          type="number" dataKey="x" domain={xd} ticks={xTicks} allowDataOverflow interval={0} height={1}
          tickSize={0} tickMargin={0} tickLine={false} axisLine={{ stroke: "#000", strokeWidth: 5 }}
          tick={(p: any) => (
            <g>
              <line x1={p.x} x2={p.x} y1={p.y} y2={p.y - 11} stroke="#000" strokeWidth={4} />
              <text x={p.x} y={p.y + 68} textAnchor="middle" fontSize={44} fontFamily={sans} fill="#111">{p.payload.value}</text>
            </g>
          )}
        />
        <YAxis
          type="number" dataKey="y" domain={yd} ticks={yTicks} allowDataOverflow interval={0} width={1}
          tickSize={0} tickMargin={0} tickLine={false} axisLine={{ stroke: "#000", strokeWidth: 6 }}
          tick={(p: any) => (
            <g>
              <line x1={p.x} x2={p.x + 12} y1={p.y} y2={p.y} stroke="#000" strokeWidth={4} />
              <text x={p.x - 24} y={p.y + 20} textAnchor="end" fontSize={44} fontFamily={sans} fill="#111">{p.payload.value}</text>
            </g>
          )}
        />
        <Scatter
          data={cells} dataKey="y" isAnimationActive={false} zIndex={50}
          shape={(p: any) => {
            const c = p.payload;
            return (
              <rect
                x={p.cx + (c.x0 - c.x) * kx} y={p.cy - (c.y1 - c.y) * ky}
                width={(c.x1 - c.x0) * kx} height={(c.y1 - c.y0) * ky}
                fill={heatColor(c.v)} stroke={heatColor(c.v)} strokeWidth={0.5}
              />
            );
          }}
        />
        {children}
        <Line
          data={path} dataKey="y" stroke="#fe0000" strokeWidth={lineWidth} dot={false}
          isAnimationActive={false} strokeLinejoin="miter" strokeLinecap="butt"
        />
      </ComposedChart>
    </div>
  );
}

function RunsPanel({ box, runs, yMax, yTicks }: any) {
  const w = box.r - box.l;
  const h = box.b - box.t;
  const table = targets.map((x, i) => {
    const row: any = { x };
    runs.forEach((r: number[], k: number) => { row["s" + k] = r[i]; });
    return row;
  });
  const frame = { stroke: "#000", strokeWidth: 4.5 };
  const xd = [-10, 10];
  const yd = [-yMax, yMax];
  return (
    <div style={{ position: "absolute", left: box.l - pad.left, top: box.t - pad.top }}>
      <ComposedChart
        width={w + pad.left + pad.right} height={h + pad.top + pad.bottom} data={table}
        margin={{ top: pad.top - 1, right: pad.right - 1, bottom: pad.bottom - 1, left: pad.left - 1 }}
      >
        <XAxis
          type="number" dataKey="x" domain={xd} ticks={[-10, 0, 10]} allowDataOverflow interval={0} height={1}
          tickSize={0} tickMargin={0} tickLine={false} axisLine={frame}
          tick={(p: any) => (
            <g>
              <line x1={p.x} x2={p.x} y1={p.y} y2={p.y - 7} stroke="#000" strokeWidth={4} />
              <text x={p.x - 3} y={p.y + 56} textAnchor="middle" fontSize={40} fontFamily={sans} fill="#111">{p.payload.value}</text>
            </g>
          )}
        />
        <XAxis
          xAxisId="top" orientation="top" type="number" dataKey="x" domain={xd} ticks={[-10, 0, 10]} allowDataOverflow interval={0} height={1}
          tickSize={0} tickMargin={0} tickLine={false} axisLine={frame}
          tick={(p: any) => <line x1={p.x} x2={p.x} y1={p.y} y2={p.y + 7} stroke="#000" strokeWidth={4} />}
        />
        <YAxis
          type="number" domain={yd} ticks={yTicks} allowDataOverflow interval={0} width={1}
          tickSize={0} tickMargin={0} tickLine={false} axisLine={frame}
          tick={(p: any) => (
            <g>
              <line x1={p.x} x2={p.x + 7} y1={p.y} y2={p.y} stroke="#000" strokeWidth={4} />
              <text x={p.x - 15} y={p.y + 17} textAnchor="end" fontSize={40} fontFamily={sans} fill="#111">{p.payload.value}</text>
            </g>
          )}
        />
        <YAxis
          yAxisId="right" orientation="right" type="number" domain={yd} ticks={yTicks} allowDataOverflow interval={0} width={1}
          tickSize={0} tickMargin={0} tickLine={false} axisLine={frame}
          tick={(p: any) => <line x1={p.x} x2={p.x - 7} y1={p.y} y2={p.y} stroke="#000" strokeWidth={4} />}
        />
        {runs.map((_: number[], k: number) => {
          const color = runColors[k % runColors.length];
          return (
            <Line
              key={k} dataKey={"s" + k} stroke={color} strokeWidth={6.5} zIndex={600}
              dot={{ r: 13, fill: color, stroke: color, strokeWidth: 0, clipDot: false }}
              isAnimationActive={false}
            />
          );
        })}
      </ComposedChart>
    </div>
  );
}

function T({ x, y, w, size, weight = 400, anchor = "start", rotate = false, italic = false, fill = "#111", children }: any) {
  return (
    <text
      x={x} y={y} fontSize={size} fontWeight={weight} fontFamily={sans} fontStyle={italic ? "italic" : "normal"}
      textAnchor={anchor} fill={fill} textLength={w} lengthAdjust="spacingAndGlyphs"
      transform={rotate ? `rotate(-90 ${x} ${y})` : undefined}
    >
      {children}
    </text>
  );
}

const Sym = ({ children }: any) => <tspan fontStyle="italic" fontWeight={700}>{children}</tspan>;

const rateLabel = (exp: string) => (
  <>
    Learning rate, <Sym>η</Sym> (× 10<tspan dy={-18} fontSize={32}>{exp}</tspan><tspan dy={18}>)</tspan>
  </>
);

const runsD = { t: 1377, b: 1734 };
const runsJ = { t: 3431, b: 3789 };
const runsK = { t: 3430, b: 3787 };
const tick30 = [-20, 0, 20];
const tick40 = [-40, -20, 0, 20, 40];

const runPanels = [
  { box: { l: 211, r: 569, ...runsD }, runs: reachD1, yMax: 30, yTicks: tick30, s: "10.5", e: "0.00015", tx: 154, tw: 453, ty: 1360 },
  { box: { l: 688, r: 1048, ...runsD }, runs: reachD2, yMax: 30, yTicks: tick30, s: "5.5", e: "0.00045", tx: 645, tw: 426, ty: 1360 },
  { box: { l: 1342, r: 1702, ...runsD }, runs: reachE1, yMax: 30, yTicks: tick30, s: "10.5", e: "0.00015", tx: 1285, tw: 453, ty: 1360 },
  { box: { l: 1822, r: 2181, ...runsD }, runs: reachE2, yMax: 30, yTicks: tick30, s: "5.5", e: "0.00065", tx: 1780, tw: 426, ty: 1360 },
  { box: { l: 2513, r: 2873, ...runsD }, runs: reachF1, yMax: 40, yTicks: tick40, s: "5.5", e: "0.0028", tx: 2484, tw: 394, ty: 1360 },
  { box: { l: 3001, r: 3358, ...runsD }, runs: reachF2, yMax: 40, yTicks: tick40, s: "2.5", e: "0.0223", tx: 2972, tw: 393, ty: 1360 },
  { box: { l: 211, r: 569, ...runsJ }, runs: reachJ1, yMax: 30, yTicks: tick30, s: "9.5", e: "0.0002", tx: 180, tw: 400, ty: 3415 },
  { box: { l: 688, r: 1048, ...runsJ }, runs: reachJ2, yMax: 30, yTicks: tick30, s: "6.5", e: "0.0004", tx: 659, tw: 400, ty: 3415 },
  { box: { l: 1342, r: 1702, ...runsK }, runs: reachK1, yMax: 30, yTicks: tick30, s: "9.5", e: "0.0005", tx: 1313, tw: 400, ty: 3414 },
  { box: { l: 1822, r: 2181, ...runsK }, runs: reachK2, yMax: 30, yTicks: tick30, s: "7.5", e: "0.0008", tx: 1794, tw: 400, ty: 3414 },
  { box: { l: 2516, r: 2876, ...runsJ }, runs: reachL1, yMax: 30, yTicks: tick30, s: "9.5", e: "0.0005", tx: 2487, tw: 393, ty: 3415 },
  { box: { l: 2997, r: 3355, ...runsJ }, runs: reachL2, yMax: 30, yTicks: tick30, s: "6.5", e: "0.0006", tx: 2969, tw: 394, ty: 3415 },
];

const xdA = [0.8, 14.27], ydHi = [3.74, 14.28];
const xdB = [0.078, 3.23];
const xdC = [0, 28], ydC = [1.74, 12.26];
const xdLow = [1, 11], ydLow = [4.74, 14.26];
const xdI = [0.25, 12.25];
const sigTicks = [4, 6, 8, 10, 12, 14];
const sigTicksC = [2, 4, 6, 8, 10, 12];
const sigTicksLow = [6, 8, 10, 12, 14];

const letters: any[] = [
  ["A", 3, 207, 66], ["B", 1213, 209, 60], ["C", 2366, 209, 67], ["D", 7, 1427, 62], ["E", 1212, 1427, 56], ["F", 2371, 1427, 52],
  ["G", 3, 2255, 68], ["H", 1212, 2254, 59], ["I", 2370, 2254, 15], ["J", 0, 3472, 36], ["K", 1211, 3472, 56], ["L", 2370, 3472, 41],
];
const subtitles: any[] = [
  ["15° asymptote", 218, 167, 338], ["20° asymptote", 1341, 168, 338], ["25° asymptote", 2512, 168, 339],
  ["15° asymptote", 214, 2224, 336], ["20° asymptote", 1335, 2224, 339], ["25° asymptote", 2512, 2224, 339],
];
const rateLabels: any[] = [
  ["-4", 373, 1238, 526], ["-3", 1510, 1237, 526], ["-3", 2688, 1237, 524],
  ["-4", 368, 3291, 525], ["-4", 1504, 3291, 525], ["-4", 2649, 3291, 524],
];
const targetLabels: any[] = [
  [384, 1859, 493], [1518, 1859, 492], [2688, 1859, 493], [377, 3915, 494], [1511, 3915, 494], [2688, 3915, 493],
];

export default function App() {
  return (
    <div style={{ position: "absolute", left: 0, top: 0, width: 3378, height: 3931, background: "#fff", overflow: "hidden" }}>
      <HeatPanel
        box={{ l: 211, r: 1054, t: 201, b: 1101 }} xd={xdA} yd={ydHi} xTicks={[2, 4, 6, 8, 10, 12, 14]} yTicks={sigTicks}
        cells={buildCells(etaA, sigmaA, heatA, 0.25, 0.25, xdA, ydHi)} outline={outlineA} lineWidth={14}
      />
      <HeatPanel
        box={{ l: 1343, r: 2187, t: 200, b: 1101 }} xd={xdB} yd={ydHi} xTicks={[0.5, 1, 1.5, 2, 2.5, 3]} yTicks={sigTicks}
        cells={buildCells(etaB, sigmaA, heatB, 0.025, 0.25, xdB, ydHi)} outline={outlineB} lineWidth={14}
      />
      <HeatPanel
        box={{ l: 2514, r: 3358, t: 201, b: 1101 }} xd={xdC} yd={ydC} xTicks={[0, 5, 10, 15, 20, 25]} yTicks={sigTicksC}
        cells={buildCells(etaC, sigmaC, heatC, 0.125, 0.25, xdC, ydC, faintC)} outline={outlineC} lineWidth={13}
      >
        <ReferenceArea x1={8.64} x2={28} y1={5.25} y2={12.26} fill="#5e6d74" fillOpacity={1} stroke="none" ifOverflow="visible" />
        <ReferenceArea x1={8.62} x2={8.67} y1={5.25} y2={12.26} fill="#10109a" fillOpacity={1} stroke="none" ifOverflow="visible" />
      </HeatPanel>
      <HeatPanel
        box={{ l: 211, r: 1054, t: 2255, b: 3156 }} xd={xdLow} yd={ydLow} xTicks={[2, 4, 6, 8, 10]} yTicks={sigTicksLow}
        cells={buildCells(etaLow, sigmaLow, heatG, 0.25, 0.25, xdLow, ydLow)} outline={outlineG} lineWidth={14}
      />
      <HeatPanel
        box={{ l: 1342, r: 2187, t: 2255, b: 3156 }} xd={xdLow} yd={ydLow} xTicks={[2, 4, 6, 8, 10]} yTicks={sigTicksLow}
        cells={buildCells(etaLow, sigmaLow, heatH, 0.25, 0.25, xdLow, ydLow)} outline={outlineH} lineWidth={14}
      />
      <HeatPanel
        box={{ l: 2510, r: 3355, t: 2255, b: 3156 }} xd={xdI} yd={ydLow} xTicks={[2, 4, 6, 8, 10, 12]} yTicks={sigTicksLow}
        cells={buildCells(etaI, sigmaLow, heatI, 0.25, 0.25, xdI, ydLow)} outline={outlineI} lineWidth={12}
      />
      {runPanels.map((p, i) => (
        <RunsPanel key={i} box={p.box} runs={p.runs} yMax={p.yMax} yTicks={p.yTicks} />
      ))}

      <svg width={3378} height={3931} style={{ position: "absolute", left: 0, top: 0, pointerEvents: "none" }}>
        <defs>
          <linearGradient id="heatBar" x1="0" y1="0" x2="0" y2="1">
            <stop offset="0%" stopColor="#0000a5" />
            <stop offset="16%" stopColor="#0000ff" />
            <stop offset="100%" stopColor="#ffffff" />
          </linearGradient>
        </defs>
        <T x={3} y={68} w={1108} size={73} weight={700}>Forward-model-based learning</T>
        <T x={3} y={2127} w={762} size={73} weight={700}>Direct policy learning</T>
        {letters.map(([c, x, y, w]) => <T key={c} x={x} y={y} w={w} size={96} weight={700}>{c}</T>)}
        {subtitles.map(([c, x, y, w], i) => <T key={i} x={x} y={y} w={w} size={50} weight={700}>{c}</T>)}
        {rateLabels.map(([exp, x, y, w], i) => <T key={i} x={x} y={y} w={w} size={49}>{rateLabel(exp)}</T>)}
        {targetLabels.map(([x, y, w], i) => <T key={i} x={x} y={y} w={w} size={46}>Target direction, <Sym>y*</Sym> (°)</T>)}
        {runPanels.map((p, i) => (
          <T key={i} x={p.tx} y={p.ty} w={p.tw} size={42} weight={600}>
            <tspan fontStyle="italic">σ</tspan> = {p.s},{"\u00a0\u00a0\u00a0"}<tspan fontStyle="italic">η</tspan> = {p.e}
          </T>
        ))}
        <T x={118} y={888} w={567} size={50} rotate>Basis function width, <Sym>σ</Sym> (°)</T>
        <T x={112} y={2946} w={570} size={50} rotate>Basis function width, <Sym>σ</Sym> (°)</T>
        <T x={116} y={1809} w={475} size={50} rotate>Reach direction, <Sym>u</Sym> (°)</T>
        <T x={112} y={3864} w={473} size={50} rotate>Reach direction, <Sym>u</Sym> (°)</T>
        <T x={927} y={784} w={507} size={44} rotate>Proportion of simulations</T>
        <T x={984} y={784} w={523} size={44} rotate>consistent with Expt. 2 (%)</T>
        <rect x={1004} y={205} width={40} height={687} fill="url(#heatBar)" stroke="#0000b0" strokeWidth={2} />
        <T x={1023} y={199} w={68} size={40} anchor="middle">100</T>
        <T x={1023} y={932} size={40} anchor="middle">0</T>
        <T x={2899} y={503} w={315} size={56} italic fill="#fff">Not Simulated</T>
      </svg>
    </div>
  );
}
